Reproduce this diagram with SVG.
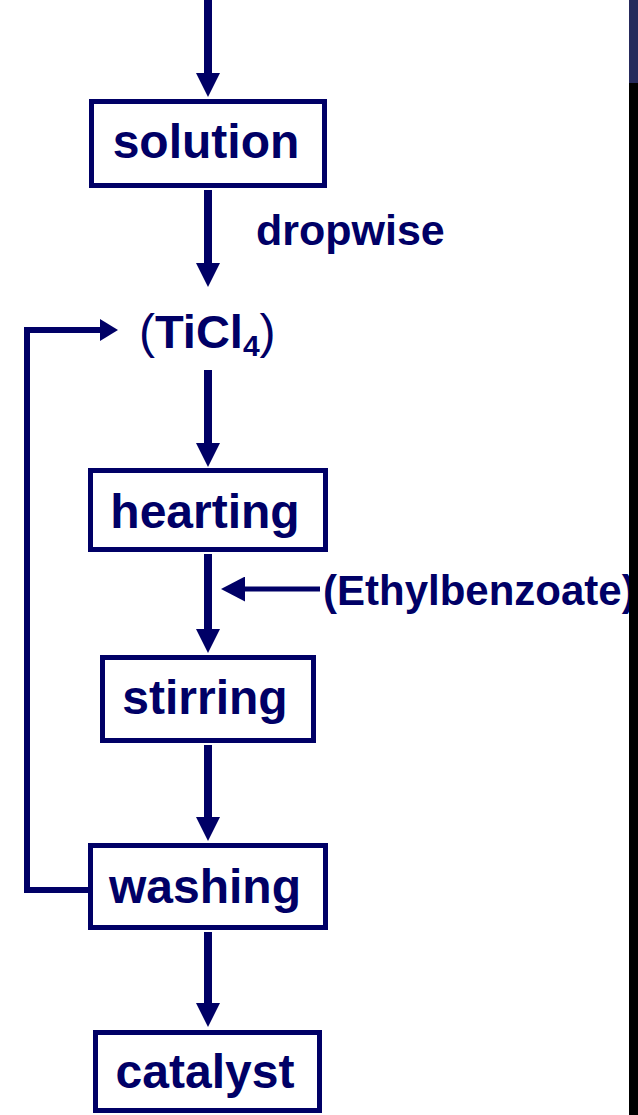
<svg xmlns="http://www.w3.org/2000/svg" width="638" height="1115" viewBox="0 0 638 1115">
  <style>
    .box { fill: #ffffff; stroke: #000066; stroke-width: 5; }
    .label { font-family: "Liberation Sans", Arial, sans-serif; font-weight: bold; fill: #000066; }
    .big { font-size: 48px; text-anchor: middle; }
    .note { font-size: 42px; }
    .note-lg { font-size: 43px; }
    .flow { fill: none; stroke: #000066; stroke-width: 8; }
    .side { fill: none; stroke: #000066; stroke-width: 5; }
    .loop { fill: none; stroke: #000066; stroke-width: 6; }
  </style>
  <defs>
    <marker id="headV" markerUnits="userSpaceOnUse" markerWidth="24" markerHeight="24" refX="0" refY="12" orient="auto" viewBox="0 0 24 24">
      <path d="M0,0 L24,12 L0,24 Z" fill="#000066"/>
    </marker>
    <marker id="headS" markerUnits="userSpaceOnUse" markerWidth="24" markerHeight="25" refX="0" refY="12.5" orient="auto" viewBox="0 0 24 25">
      <path d="M0,0 L24,12.5 L0,25 Z" fill="#000066"/>
    </marker>
    <marker id="headL" markerUnits="userSpaceOnUse" markerWidth="18" markerHeight="22" refX="0" refY="11" orient="auto" viewBox="0 0 18 22">
      <path d="M0,0 L18,11 L0,22 Z" fill="#000066"/>
    </marker>
  </defs>

  <!-- side bar on the right edge -->
  <rect x="629" y="0" width="9" height="83" fill="#262a5c"/>

  <g id="connectors">
    <line class="flow" x1="208" y1="0" x2="208" y2="73" marker-end="url(#headV)"/>
    <line class="flow" x1="208" y1="190" x2="208" y2="263" marker-end="url(#headV)"/>
    <line class="flow" x1="208" y1="370" x2="208" y2="443" marker-end="url(#headV)"/>
    <line class="flow" x1="208" y1="554" x2="208" y2="629" marker-end="url(#headV)"/>
    <line class="flow" x1="208" y1="745" x2="208" y2="817" marker-end="url(#headV)"/>
    <line class="flow" x1="208" y1="932" x2="208" y2="1003" marker-end="url(#headV)"/>
    <line class="side" x1="320" y1="589" x2="245" y2="589" marker-end="url(#headS)"/>
    <polyline class="loop" points="88,890 27,890 27,330 100,330" marker-end="url(#headL)"/>
  </g>

  <g id="solution">
    <rect class="box" x="91.5" y="101.5" width="233" height="84"/>
    <text class="label big" x="206" y="158">solution</text>
  </g>

  <g id="dropwise">
    <text class="label note-lg" x="256" y="245">dropwise</text>
  </g>

  <g id="ticl4">
    <text class="label" x="139" y="348" font-size="47"><tspan font-weight="normal" font-size="48">(</tspan>TiCl<tspan font-size="30" dy="8">4</tspan><tspan font-weight="normal" font-size="48" dy="-8">)</tspan></text>
  </g>

  <g id="hearting">
    <rect class="box" x="90.5" y="470.5" width="235" height="79"/>
    <text class="label big" x="205" y="528">hearting</text>
  </g>

  <g id="ethylbenzoate">
    <text class="label note" x="323" y="605">(Ethylbenzoate)</text>
  </g>

  <g id="stirring">
    <rect class="box" x="102.5" y="657.5" width="211" height="83"/>
    <text class="label big" x="205" y="714">stirring</text>
  </g>

  <g id="washing">
    <rect class="box" x="90.5" y="845.5" width="235" height="82"/>
    <text class="label big" x="205" y="903">washing</text>
  </g>

  <g id="catalyst">
    <rect class="box" x="95.5" y="1032.5" width="224" height="78"/>
    <text class="label big" x="205" y="1088">catalyst</text>
  </g>

  <rect x="629" y="83" width="9" height="1032" fill="#000000"/>
</svg>
